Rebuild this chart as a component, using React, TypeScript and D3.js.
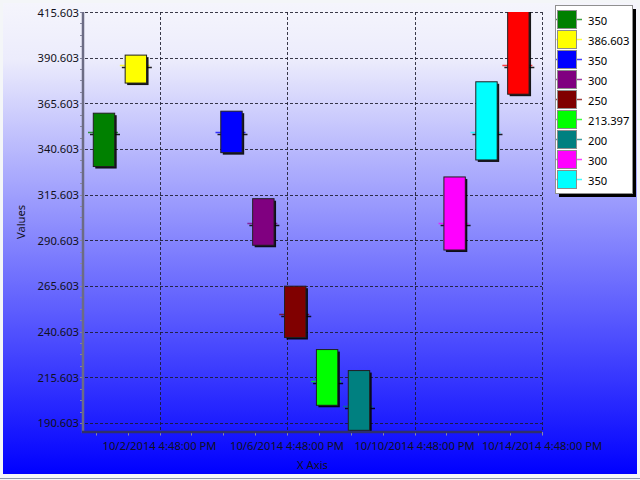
import React from "react";
import * as d3 from "d3";

const seriesNames = ["350", "386.603", "350", "300", "250", "213.397", "200", "300", "350", "386.603"];
const dates = [
  "2014-09-30T23:00", "2014-10-01T23:00", "2014-10-04T23:00", "2014-10-05T23:00", "2014-10-06T23:00",
  "2014-10-07T23:00", "2014-10-08T23:00", "2014-10-11T23:00", "2014-10-12T23:00", "2014-10-13T23:00",
];
const values = [350, 386.603, 350, 300, 250, 213.397, 200, 300, 350, 386.603];
const highs = [360.2, 392.0, 361.3, 313.4, 265.5, 230.8, 219.3, 325.3, 377.4, 425];
const lows = [331.0, 376.7, 338.6, 287.9, 237.4, 200.3, 186.6, 285.3, 334.6, 370.6];
const colors = ["#008000", "#ffff00", "#0000ff", "#800080", "#800000", "#00ff00", "#008080", "#ff00ff", "#00ffff", "#ff0000"];
const legendCount = 9;
const yTicks = [190.603, 215.603, 240.603, 265.603, 290.603, 315.603, 340.603, 365.603, 390.603, 415.603];
const xTickLabels = ["10/2/2014 4:48:00 PM", "10/6/2014 4:48:00 PM", "10/10/2014 4:48:00 PM", "10/14/2014 4:48:00 PM"];
const xDomain = ["2014-09-30T07:12", "2014-10-14T16:48"];
const yDomain = [185.67, 415.603];

const FONT = "'Noto Sans', sans-serif";
const FS = 11.2;

export default function App() {
  const W = 640, H = 480;
  const pl = 83, pr = 542, pt = 12, pb = 432;
  const parseTick = d3.timeParse("%m/%d/%Y %I:%M:%S %p");
  const x = d3.scaleTime().domain(xDomain.map((s) => new Date(s))).range([pl, pr]);
  const y = d3.scaleLinear().domain(yDomain).range([pb, pt]);
  const majorX = xTickLabels.map((s) => parseTick(s) as Date);
  const dayMs = 86400000;
  const minorX: Date[] = [];
  for (let t = majorX[0].getTime() - 2 * dayMs; t <= x.domain()[1].getTime() + 1; t += dayMs) minorX.push(new Date(t));
  const minorY: number[] = [];
  for (let v = yTicks[0] - 25; v <= yTicks[yTicks.length - 1] + 0.001; v += 6.25) {
    if (v >= yDomain[0] - 0.001) minorY.push(v);
  }
  const boxW = 21.4;
  const grid = "#1a1a2a";

  return (
    <svg width={W} height={H} style={{ position: "absolute", left: 0, top: 0 }} fontFamily={FONT}>
      <defs>
        <linearGradient id="bg" x1="0" y1="0" x2="0" y2="1">
          <stop offset="0" stopColor="rgb(245,245,252)" />
          <stop offset="0.12" stopColor="rgb(236,236,252)" />
          <stop offset="1" stopColor="rgb(0,0,255)" />
        </linearGradient>
        <clipPath id="plot">
          <rect x={pl} y={pt} width={pr - pl} height={pb - pt} />
        </clipPath>
      </defs>
      <rect x={0} y={0} width={W} height={H} fill="#f4f6f8" />
      <rect x={3} y={3} width={634} height={471} fill="url(#bg)" />
      <line x1={0} x2={W} y1={478.5} y2={478.5} stroke="#8a96aa" strokeWidth={1} />

      {/* gridlines */}
      {yTicks.map((v, i) => (
        <line key={"gy" + i} x1={pl - 3} x2={pr} y1={Math.round(y(v)) + 0.5} y2={Math.round(y(v)) + 0.5}
          stroke={grid} strokeDasharray="3,2" strokeWidth={1} opacity={0.85} />
      ))}
      {majorX.map((d, i) => (
        <line key={"gx" + i} x1={Math.round(x(d)) + 0.5} x2={Math.round(x(d)) + 0.5} y1={pt} y2={pb}
          stroke={grid} strokeDasharray="3,2" strokeWidth={1} opacity={0.85} />
      ))}

      {/* minor ticks */}
      {minorY.map((v, i) => (
        <line key={"my" + i} x1={80} x2={83} y1={Math.round(y(v)) + 0.5} y2={Math.round(y(v)) + 0.5} stroke="#8888a0" strokeWidth={1} />
      ))}
      {minorX.map((d, i) => (
        <line key={"mx" + i} x1={Math.round(x(d)) + 0.5} x2={Math.round(x(d)) + 0.5} y1={432} y2={435.5} stroke="#8888b0" strokeWidth={1} />
      ))}

      {/* boxes */}
      <g clipPath="url(#plot)">
        {values.map((v, i) => {
          const cx = x(new Date(dates[i]));
          const yv = Math.round(y(v)) + 0.5;
          const y1 = y(highs[i]);
          const y2 = y(lows[i]);
          return (
            <g key={"b" + i}>
              <line x1={cx - 14} x2={cx + 16} y1={yv + 2} y2={yv + 2} stroke="#000" strokeWidth={1.5} opacity={0.85} />
              <line x1={cx - 16} x2={cx + 14} y1={yv} y2={yv} stroke={colors[i]} strokeWidth={1.5} opacity={0.75} />
              <rect x={cx - boxW / 2 + 2} y={y1 + 2} width={boxW} height={y2 - y1} fill="#000" opacity={0.9} />
              <rect x={cx - boxW / 2} y={y1} width={boxW} height={y2 - y1} fill={colors[i]} stroke="#202020" strokeWidth={1} />
            </g>
          );
        })}
      </g>

      {/* axes lines */}
      <line x1={83} x2={83} y1={pt} y2={pb + 1} stroke="#6c6c84" strokeWidth={2.5} />
      <line x1={82} x2={pr} y1={pb} y2={pb} stroke="#30306a" strokeWidth={2.5} />

      {/* y labels */}
      {yTicks.map((v, i) => (
        <text key={"yl" + i} x={79} y={y(v)} textAnchor="end" dominantBaseline="central" fontSize={FS} fill="#101020">
          {v.toFixed(3)}
        </text>
      ))}
      {/* x labels */}
      {majorX.map((d, i) => (
        <text key={"xl" + i} x={x(d)} y={445} textAnchor="middle" dominantBaseline="central" fontSize={FS} fill="#101020">
          {xTickLabels[i]}
        </text>
      ))}
      <text x={(pl + pr) / 2} y={464} textAnchor="middle" dominantBaseline="central" fontSize={FS} fill="#101020">X Axis</text>
      <text transform={`translate(20,${(pt + pb) / 2}) rotate(-90)`} textAnchor="middle" dominantBaseline="central" fontSize={FS} fill="#101020">Values</text>

      {/* legend */}
      <rect x={559} y={9} width={77} height={188} fill="#000" />
      <rect x={555.5} y={5.5} width={77} height={188} fill="#fff" stroke="#909090" strokeWidth={1} />
      {seriesNames.slice(0, legendCount).map((n, i) => (
        <g key={"lg" + i}>
          <line x1={556} x2={582} y1={19.5 + 20 * i} y2={19.5 + 20 * i} stroke={colors[i]} strokeWidth={1.5} opacity={0.75} />
          <rect x={557.5} y={10.5 + 20 * i} width={19} height={18} fill={colors[i]} stroke="#8c8c8c" strokeWidth={1} />
          <text x={588} y={20 + 20 * i} dominantBaseline="central" fontSize={FS} fill="#000">{n}</text>
        </g>
      ))}
    </svg>
  );
}
